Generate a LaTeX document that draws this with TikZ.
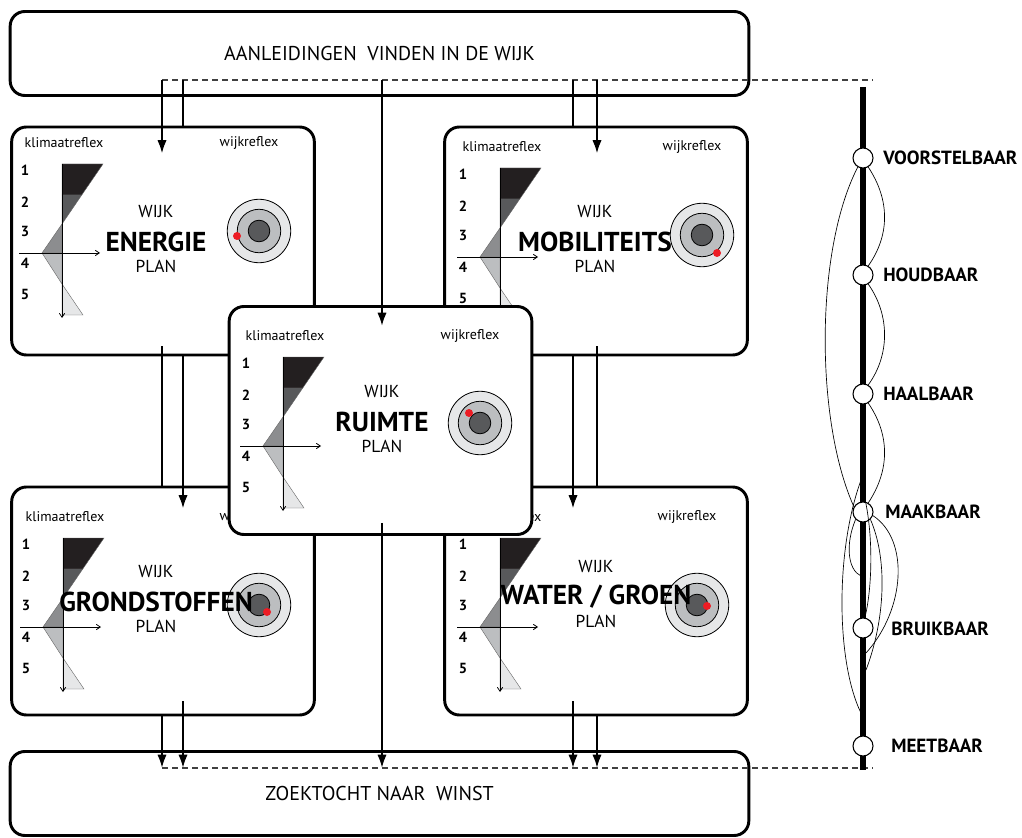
\documentclass[tikz,border=0pt]{standalone}
\usepackage{fontspec}
\setmainfont{PT Sans}
\usetikzlibrary{arrows.meta,calc}

\definecolor{zwart}{HTML}{231F20}
\definecolor{donker}{HTML}{58595B}
\definecolor{grijs}{HTML}{8C8D8F}
\definecolor{midden}{HTML}{BCBEC0}
\definecolor{licht}{HTML}{E6E7E8}
\definecolor{rood}{HTML}{ED1C24}

\newcommand{\wijkplan}[7]{%
  \node[planbox] (#1) at #2 {};
  \coordinate (#1-g) at #5;
  \coordinate (#1-d) at #6;
  \draw[ring, fill=licht] (#1-d) circle[radius=23.8pt];
  \draw[ring, fill=midden] (#1-d) circle[radius=16.3pt];
  \draw[ring, fill=donker] (#1-d) circle[radius=8.1pt];
  \node[klein] (#1-wr) at ($(#1-d |- #1-g)+(-10,-21)$) {wijkreflex};
  \begin{scope}[shift={#5}]
    \node[klein] (#1-kr) at (2,-21) {klimaatreflex};
    \foreach \n/\h in {1/6,2/38,3/67,4/99,5/130}
      \node[cijfer] (#1-c\n) at (-37,\h) {\n};
    \filldraw[band, fill=zwart] (0,0) -- (41,0) -- (19.75,31) -- (0,31) -- cycle;
    \filldraw[band, fill=donker] (0,31) -- (19.75,31) -- (0,60) -- cycle;
    \filldraw[band, fill=grijs] (0,60) -- (-20,89) -- (0,89) -- cycle;
    \filldraw[band, fill=midden] (-20,89) -- (0,89) -- (0,120) -- cycle;
    \filldraw[band, fill=licht] (0,120) -- (21,151) -- (0,151) -- cycle;
    \draw[grafas] (0,0) -- (0,154);
    \draw[grafas] (-43,89) -- (38,89);
  \end{scope}
  \node[wijk] (#1-t) at ($#4+(0,-30)$) {WIJK};
  \node[woord] (#1-n) at #4 {#3};
  \node[wijk] (#1-p) at ($#4+(0,24)$) {PLAN};
  \fill[rood] ($(#1-d)+#7$) circle[radius=3pt];
}

\begin{document}
\begin{tikzpicture}[x=0.75pt, y=-0.75pt, >={Latex[length=10pt,width=7pt]},
    bigbox/.style={draw, line width=2.2pt, rounded corners=11pt, fill=white,
      minimum width=554pt, minimum height=63pt, font=\fontsize{15}{17}\selectfont},
    planbox/.style={draw, line width=2.2pt, rounded corners=11pt, fill=white,
      minimum width=227pt, minimum height=171pt},
    klein/.style={font=\fontsize{10.5}{12}\selectfont, inner sep=0pt},
    cijfer/.style={font=\bfseries\fontsize{11}{13}\selectfont, inner sep=0pt},
    wijk/.style={font=\fontsize{13}{15}\selectfont, inner sep=0pt},
    woord/.style={font=\bfseries\fontsize{20.5}{23}\selectfont, inner sep=0pt},
    band/.style={draw=black!60, line width=0.3pt},
    grafas/.style={-{Straight Barb[length=3pt,width=4pt]}, line width=0.6pt},
    ring/.style={draw, line width=0.6pt},
    pijl/.style={line width=1.6pt},
    streep/.style={black!75, line width=0.8pt, dash pattern=on 4.5pt off 3pt},
    tijdlijn/.style={line width=4pt},
    stap/.style={circle, draw, fill=white, line width=0.8pt, minimum size=15pt, inner sep=0pt},
    staplabel/.style={anchor=west, font=\bfseries\fontsize{14.3}{16}\selectfont, inner sep=0pt},
    boog/.style={line width=0.5pt}]
    \useasboundingbox (0,0) rectangle (1022,838);
    
    \node[bigbox] (aanl) at (379.5,53.5) {AANLEIDINGEN\ \ VINDEN IN DE WIJK};
    \node[bigbox] (zoek) at (379.5,793.5) {ZOEKTOCHT NAAR\ \ WINST};
    
    \coordinate (a1) at (162,80);
    \coordinate (a2) at (183,80);
    \coordinate (a3) at (382,80);
    \coordinate (a4) at (573,80);
    \coordinate (a5) at (597,80);
    \coordinate (a6) at (873,80);
    \coordinate (z1) at (162,768);
    \coordinate (z2) at (183,768);
    \coordinate (z3) at (382,768);
    \coordinate (z4) at (573,768);
    \coordinate (z5) at (597,768);
    \coordinate (z6) at (873,768);
    \draw[streep] (a1) -- (a6);
    \draw[streep] (z1) -- (z6);
    
    \wijkplan{energie}{(163,241)}{ENERGIE}{(156,242)}{(62,164)}{(259,231)}{(-22,5)}
    \wijkplan{mobiliteit}{(596,241)}{MOBILITEITS}{(595,242)}{(500,168)}{(702,235)}{(15,18)}
    \wijkplan{grond}{(163,601)}{GRONDSTOFFEN}{(156,602)}{(63,538)}{(259,605)}{(8,7)}
    \wijkplan{water}{(596,601)}{WATER / GROEN}{(596,597)}{(500,538)}{(697,605)}{(10,1)}
    \wijkplan{ruimte}{(380.5,420.5)}{RUIMTE}{(382,422)}{(283,357)}{(480,423)}{(-11,-10)}
    
    \draw[pijl,->] (a1) -- ($(a1 |- energie.north)+(0,28)$);
    \draw[pijl,-] (a2) -- (a2 |- energie.north);
    \draw[pijl,->] (a3) -- ($(a3 |- ruimte.north)+(0,21)$);
    \draw[pijl,-] (a4) -- (a4 |- mobiliteit.north);
    \draw[pijl,->] (a5) -- ($(a5 |- mobiliteit.north)+(0,28)$);
    
    \draw[pijl,-] ($(a1 |- energie.south)+(0,-10)$) -- (a1 |- grond.north);
    \draw[pijl,->] (a2 |- energie.south) -- ($(a2 |- grond.north)+(0,23)$);
    \draw[pijl,->] (a4 |- mobiliteit.south) -- ($(a4 |- water.north)+(0,23)$);
    \draw[pijl,-] ($(a5 |- mobiliteit.south)+(0,-10)$) -- (a5 |- water.north);
    
    \draw[pijl,->] (a1 |- grond.south) -- (z1);
    \draw[pijl,->] ($(a2 |- grond.south)+(0,-15)$) -- (z2);
    \draw[pijl,->] ($(a3 |- ruimte.south)+(0,-13)$) -- (z3);
    \draw[pijl,->] ($(a4 |- water.south)+(0,-15)$) -- (z4);
    \draw[pijl,->] (a5 |- water.south) -- (z5);
    
    \coordinate (lijn1) at (863,87);
    \coordinate (lijn2) at (863,770);
    \draw[tijdlijn] (lijn1) -- (lijn2);
    
    \node[stap] (voor) at (863,158) {};
    \node[stap] (houd) at (863,275) {};
    \node[stap] (haal) at (863,394) {};
    \node[stap] (maak) at (863,512) {};
    \node[stap] (brui) at (863,628) {};
    \node[stap] (meet) at (863,746) {};
    
    \coordinate (b1) at (865,470);
    \coordinate (b2) at (861,713);
    \coordinate (b3) at (861,483);
    \coordinate (b4) at (861,576);
    \coordinate (b5) at (866,670);
    \coordinate (b6) at (866,653);
    
    \draw[boog] (voor.240) .. controls (815,250) and (815,420) .. (maak.150);
    \draw[boog] (voor.300) .. controls (890,200) and (890,235) .. (houd.60);
    \draw[boog] (houd.300) .. controls (890,315) and (890,355) .. (haal.60);
    \draw[boog] (haal.300) .. controls (890,435) and (890,470) .. (maak.60);
    \draw[boog] (b1) .. controls (835,540) and (835,660) .. (b2);
    \draw[boog] (b3) .. controls (875,530) and (872,590) .. (brui.80);
    \draw[boog] (maak.225) .. controls (845,545) and (848,570) .. (b4);
    \draw[boog] (maak.315) .. controls (888,560) and (885,620) .. (b5);
    \draw[boog] (maak.340) .. controls (910,540) and (905,610) .. (b6);
    
    \node[staplabel] (voor-t) at (883,158) {VOORSTELBAAR};
    \node[staplabel] (houd-t) at (883,275) {HOUDBAAR};
    \node[staplabel] (haal-t) at (883,394) {HAALBAAR};
    \node[staplabel] (maak-t) at (885,512) {MAAKBAAR};
    \node[staplabel] (brui-t) at (891,629) {BRUIKBAAR};
    \node[staplabel] (meet-t) at (891,746) {MEETBAAR};
    
\end{tikzpicture}
\end{document}
